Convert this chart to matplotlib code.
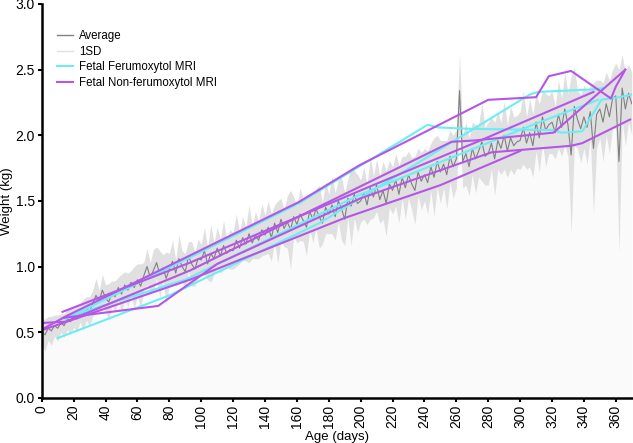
import numpy as np
import matplotlib
matplotlib.use("Agg")
import matplotlib.pyplot as plt
from matplotlib.ticker import FormatStrFormatter

plt.rcParams['font.family'] = ['Liberation Sans', 'DejaVu Sans']

# average weight (kg) and 1SD, every 2 days from day 0 to 370
days = np.arange(0, 371, 2)
avg = [
    0.50, 0.48, 0.53, 0.51, 0.55, 0.53, 0.57, 0.55, 0.60, 0.58,
    0.62, 0.60, 0.65, 0.63, 0.68, 0.66, 0.72, 0.78, 0.74, 0.82,
    0.76, 0.73, 0.80, 0.77, 0.84, 0.79, 0.86, 0.82, 0.88, 0.84,
    0.90, 0.85, 0.93, 1.00, 0.92, 0.97, 1.03, 0.94, 0.99, 0.91,
    0.98, 1.04, 0.95, 1.06, 1.00, 0.96, 1.08, 1.02, 0.98, 1.06,
    1.05, 1.12, 1.02, 1.10, 1.06, 1.14, 1.08, 1.16, 1.10, 1.13,
    1.12, 1.20, 1.14, 1.22, 1.17, 1.25, 1.18, 1.24, 1.20, 1.28,
    1.24, 1.30, 1.22, 1.33, 1.26, 1.36, 1.29, 1.34, 1.28, 1.38,
    1.32, 1.40, 1.35, 1.30, 1.42, 1.36, 1.44, 1.38, 1.33, 1.45,
    1.40, 1.47, 1.38, 1.50, 1.44, 1.36, 1.52, 1.46, 1.55, 1.48,
    1.50, 1.56, 1.47, 1.60, 1.53, 1.62, 1.51, 1.58, 1.48, 1.63,
    1.58, 1.66, 1.55, 1.68, 1.60, 1.70, 1.63, 1.58, 1.72, 1.65,
    1.70, 1.64, 1.76, 1.68, 1.80, 1.72, 1.78, 1.70, 1.84, 1.76,
    1.82, 2.34, 1.80, 1.86, 1.76, 1.90, 1.82, 1.88, 1.95, 1.84,
    1.86, 1.94, 1.82, 1.96, 1.90, 2.00, 1.88, 1.98, 1.92, 1.95,
    1.96, 2.06, 1.94, 2.02, 1.92, 2.10, 1.98, 2.14, 2.04, 2.08,
    2.10, 2.02, 2.16, 2.06, 2.20, 2.08, 1.85, 2.22, 2.12, 2.05,
    2.14, 2.06, 2.18, 1.90, 2.16, 2.20, 2.10, 2.24, 2.14, 2.28,
    2.30, 1.80, 2.36, 2.20, 2.32, 2.24,
]
sd = [
    0.10, 0.12, 0.09, 0.11, 0.08, 0.10, 0.07, 0.09, 0.08, 0.10,
    0.08, 0.10, 0.07, 0.12, 0.09, 0.11, 0.10, 0.13, 0.08, 0.12,
    0.10, 0.14, 0.09, 0.12, 0.08, 0.15, 0.10, 0.13, 0.09, 0.16,
    0.12, 0.17, 0.10, 0.14, 0.11, 0.16, 0.12, 0.18, 0.10, 0.20,
    0.12, 0.16, 0.10, 0.18, 0.12, 0.14, 0.11, 0.17, 0.13, 0.15,
    0.12, 0.18, 0.12, 0.22, 0.12, 0.16, 0.13, 0.19, 0.11, 0.15,
    0.14, 0.20, 0.12, 0.16, 0.13, 0.22, 0.12, 0.18, 0.14, 0.20,
    0.15, 0.20, 0.18, 0.14, 0.24, 0.16, 0.14, 0.20, 0.30, 0.15,
    0.14, 0.20, 0.16, 0.22, 0.14, 0.18, 0.15, 0.24, 0.16, 0.20,
    0.15, 0.22, 0.18, 0.16, 0.24, 0.20, 0.15, 0.30, 0.18, 0.22,
    0.16, 0.20, 0.15, 0.24, 0.16, 0.20, 0.18, 0.22, 0.25, 0.18,
    0.18, 0.20, 0.22, 0.16, 0.24, 0.18, 0.20, 0.26, 0.18, 0.22,
    0.20, 0.24, 0.18, 0.30, 0.20, 0.24, 0.18, 0.26, 0.20, 0.24,
    0.22, 0.28, 0.20, 0.24, 0.22, 0.20, 0.26, 0.20, 0.30, 0.22,
    0.24, 0.20, 0.28, 0.22, 0.20, 0.26, 0.20, 0.24, 0.22, 0.20,
    0.22, 0.28, 0.20, 0.26, 0.24, 0.22, 0.26, 0.20, 0.28, 0.22,
    0.24, 0.20, 0.26, 0.22, 0.28, 0.24, 0.60, 0.30, 0.22, 0.26,
    0.24, 0.28, 0.20, 0.50, 0.26, 0.22, 0.30, 0.24, 0.28, 0.22,
    0.25, 0.70, 0.25, 0.28, 0.22, 0.24,
]

# individual fetuses: (day, weight) series
feru_days = [
    [15, 161, 242, 248, 266, 320, 326, 339, 351, 362, 370],
    [10, 80, 174, 306, 311, 347, 352],
    [12, 90, 200, 308, 349],
]
feru_wts = [
    [0.60, 1.48, 2.08, 2.06, 2.05, 2.04, 2.02, 2.03, 2.27, 2.29, 2.31],
    [0.455, 0.78, 1.33, 2.31, 2.33, 2.35, 2.36],
    [0.60, 0.90, 1.55, 2.08, 2.27],
]
nonferu_days = [
    [0, 15, 161, 199, 280, 310, 318, 332, 357, 360, 366],
    [0, 15, 93, 161, 257, 271, 321, 366],
    [14, 73, 110, 200, 282, 332, 339, 369],
    [13, 93, 200, 275, 346],
    [0, 93, 190, 250, 300],
]
nonferu_wts = [
    [0.52, 0.62, 1.49, 1.77, 2.27, 2.29, 2.45, 2.49, 2.28, 2.37, 2.50],
    [0.57, 0.58, 0.97, 1.38, 1.95, 1.96, 2.02, 2.50],
    [0.61, 0.70, 1.02, 1.52, 1.87, 1.92, 1.94, 2.12],
    [0.655, 1.03, 1.58, 1.96, 2.33],
    [0.515, 0.90, 1.37, 1.62, 1.88],
]

avg = np.array(avg)
sd = np.array(sd)

fig = plt.figure(figsize=(6.33, 4.43), dpi=100)
ax = fig.add_axes([0.066, 0.102, 0.932, 0.889])

ax.fill_between(days, 0, avg - sd, color='#fafafa', lw=0)
ax.fill_between(days, avg - sd, avg + sd, color='#e0e0e0', lw=0)
ax.plot(days, avg, color='#808080', lw=0.8)

cyan = '#6aeef5'
purple = '#b456e6'
for d, w in zip(feru_days, feru_wts):
    ax.plot(d, w, color=cyan, lw=1.5)
for d, w in zip(nonferu_days, nonferu_wts):
    ax.plot(d, w, color=purple, lw=1.5)

# legend
handles = [
    plt.Line2D([], [], color='#808080', lw=1),
    plt.Line2D([], [], color='#e6dede', lw=1),
    plt.Line2D([], [], color=cyan, lw=1.5),
    plt.Line2D([], [], color=purple, lw=1.5),
]
ax.legend(handles, ['Average', '1SD', 'Fetal Ferumoxytol MRI', 'Fetal Non-ferumoxytol MRI'],
          loc='upper left', bbox_to_anchor=(0.018, 0.945), frameon=False, fontsize=8.3,
          handlelength=1.4, handletextpad=0.5, labelspacing=0.3, borderaxespad=0)

ax.set_xlim(0, 370)
ax.set_ylim(0, 3.0)
ax.set_xticks(np.arange(0, 361, 20))
ax.set_yticks(np.arange(0, 3.01, 0.5))
ax.yaxis.set_major_formatter(FormatStrFormatter('%.1f'))
ax.tick_params(axis='x', labelrotation=90)
ax.tick_params(labelsize=10, width=1.5, length=3, color='black', pad=2)
for s in ['top', 'right']:
    ax.spines[s].set_visible(False)
for s in ['left', 'bottom']:
    ax.spines[s].set_linewidth(1.8)

ax.set_xlabel('Age (days)', fontsize=9.5, labelpad=2)
ax.set_ylabel('Weight (kg)', fontsize=9.5, labelpad=2)

fig.savefig('out.png', dpi=100)
